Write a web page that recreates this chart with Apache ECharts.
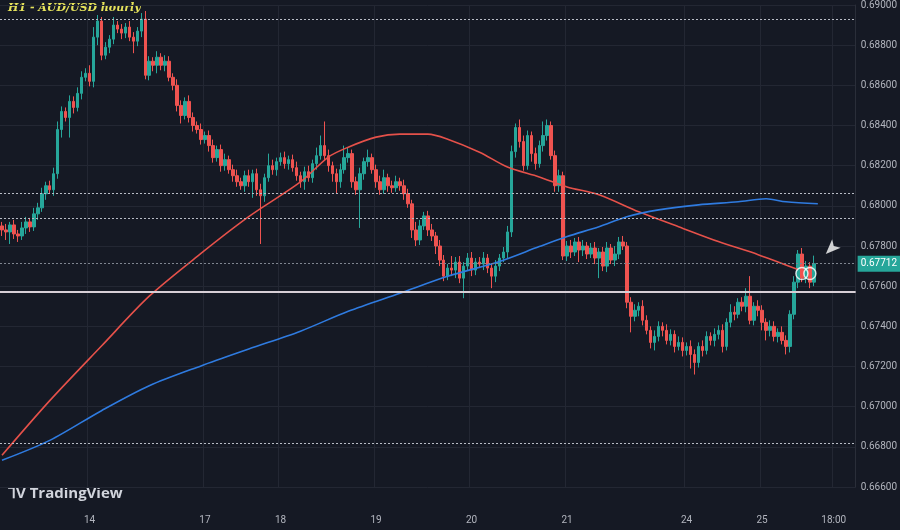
<!DOCTYPE html>
<html lang="en">
<head>
  <meta charset="UTF-8">
  <script src="https://cdn.jsdelivr.net/npm/echarts/dist/echarts.min.js"></script>
  <style>
    html, body { margin: 0; background: #151924; }
    #chart { width: 900px; height: 530px; }
  </style>
</head>
<body>
  <div id="chart"></div>
  <script>
    // closes in 1e-5 units, opens are the previous close
    const closes = [
      67880,67870,67905,67860,67850,67890,67920,67895,67960,67990,
      68060,68100,68080,68160,68380,68470,68440,68520,68490,68560,
      68640,68660,68620,68840,68920,68750,68790,68830,68900,68880,
      68860,68890,68840,68820,68870,68930,68650,68720,68700,68740,
      68700,68720,68640,68600,68500,68450,68520,68440,68400,68380,
      68330,68350,68300,68240,68280,68200,68230,68180,68150,68120,
      68100,68150,68120,68160,68080,68050,68140,68200,68180,68220,
      68240,68210,68230,68190,68150,68120,68170,68140,68210,68250,
      68300,68250,68200,68160,68120,68180,68240,68260,68120,68080,
      68160,68220,68240,68180,68120,68080,68140,68100,68090,68120,
      68100,68060,68010,67880,67830,67900,67950,67880,67850,67800,
      67730,67650,67690,67680,67720,67640,67700,67740,67680,67720,
      67710,67740,67690,67650,67700,67740,67770,67870,68270,68390,
      68320,68200,68350,68260,68210,68300,68350,68400,68250,68100,
      68150,67750,67800,67770,67820,67780,67800,67760,67790,67740,
      67770,67700,67790,67730,67760,67820,67800,67520,67450,67480,
      67500,67430,67380,67320,67350,67400,67380,67330,67360,67300,
      67320,67280,67300,67260,67220,67300,67280,67350,67330,67360,
      67380,67300,67420,67470,67460,67520,67500,67550,67430,67500,
      67480,67420,67380,67400,67350,67370,67330,67300,67460,67620,
      67760,67640,67700,67620,67712
    ];
    const firstOpen = 67900;
    const upWick = [
      20,30,15,25,20,30,25,20,30,25, 30,20,25,30,40,25,20,30,25,30,
      30,25,40,50,30,20,25,20,40,20, 25,20,30,25,20,30,40,25,20,30,
      20,30,25,20,30,25,20,30,25,20, 30,20,25,30,20,25,30,20,25,30,
      20,25,30,20,25,30,20,60,30,20, 25,30,20,25,30,20,25,30,20,40,
      50,120,30,20,25,30,60,30,20,25, 30,20,40,20,25,30,40,20,25,30,
      20,30,25,20,40,30,20,25,30,20, 30,25,20,60,25,30,20,25,30,20,
      25,30,20,25,30,20,25,30,30,20, 40,30,25,20,30,25,70,30,20,25,
      30,20,25,30,20,25,30,20,25,30, 20,25,30,20,40,25,30,20,25,30,
      20,30,25,20,30,25,20,30,25,20, 30,25,20,30,25,20,30,25,20,30,
      25,30,20,40,30,20,25,40,100,20, 30,25,20,30,25,20,30,25,20,30,
      20,30,25,20,40
    ];
    const downWick = [
      30,40,60,25,30,20,30,25,20,30, 20,30,20,30,25,40,20,100,30,20,
      30,20,25,30,40,25,20,30,25,20, 30,25,20,60,25,30,20,25,30,40,
      25,30,20,25,30,40,20,25,30,20, 25,20,30,25,20,30,25,20,30,25,
      20,30,25,80,30,240,30,20,25,30, 20,25,30,20,25,30,40,20,25,30,
      20,25,30,40,60,30,20,25,30,25, 190,30,25,20,30,25,20,30,25,20,
      25,30,20,40,30,25,20,30,25,40, 30,25,20,30,40,25,100,20,30,25,
      20,30,25,60,30,25,20,30,25,30, 30,25,20,40,30,20,30,25,20,30,
      30,20,25,30,20,60,30,25,20,30, 100,25,30,20,30,25,20,30,80,25,
      30,25,20,30,40,25,30,20,25,30, 20,30,25,70,60,25,30,20,25,30,
      25,30,20,25,30,20,25,30,20,25, 30,40,50,30,25,30,20,40,30,25,
      30,20,25,30,20
    ];
    // moving averages: [candle index, price 1e-5]
    const maRed = [[0,66758],[12,67030],[25,67302],[37,67550],[50,67763],[62,67946],[75,68119],
      [82,68243],[87,68292],[94,68342],[100,68357],[107,68357],[112,68332],[120,68267],[127,68193],
      [135,68144],[142,68094],[150,68055],[160,67970],[170,67896],[180,67822],[190,67757],[200,67683]];
    const maBlue = [[0,66733],[12,66832],[25,66980],[37,67104],[50,67203],[62,67287],[75,67376],
      [87,67475],[100,67565],[112,67649],[125,67723],[135,67797],[142,67847],[150,67896],[157,67946],
      [165,67980],[175,68005],[185,68020],[192,68035],[197,68020],[205,68010]];
    const nCats = 215;
    const tickIdx = [22, 51, 70, 94, 118, 142, 172, 191, 209];
    const tickTxt = ['14', '17', '18', '19', '20', '21', '24', '25', '18:00'];
    const dottedLevels = [0.68931, 0.68064, 0.67936, 0.66817];
    const supportLevel = 0.67574;
    const lastPrice = 0.67712;
    const circles = [[201, 0.67663], [203, 0.67663]];
    const arrowAt = [207, 0.67760];

    const s = v => v / 100000;
    const cats = Array.from({ length: nCats }, (_, i) => String(i));
    const candles = closes.map((c, i) => {
      const o = i === 0 ? firstOpen : closes[i - 1];
      return [s(o), s(c), s(Math.min(o, c) - downWick[i]), s(Math.max(o, c) + upWick[i])];
    });
    const toLine = arr => {
      const d = new Array(nCats).fill(null);
      arr.forEach(([i, v]) => { d[i] = s(v); });
      return d;
    };
    const tickSet = new Set(tickIdx);

    const chart = echarts.init(document.getElementById('chart'));
    chart.setOption({
      backgroundColor: '#151924',
      animation: false,
      grid: { left: 0, right: 40, top: 2, bottom: 43 },
      xAxis: {
        type: 'category', data: cats, boundaryGap: true,
        axisLine: { show: false }, axisTick: { show: false },
        axisLabel: {
          interval: (i) => tickSet.has(i), margin: 28,
          color: '#b2b5be', fontSize: 10, fontFamily: 'Roboto',
          formatter: (v) => tickTxt[tickIdx.indexOf(Number(v))] || ''
        },
        splitLine: { show: true, interval: (i) => tickSet.has(i), lineStyle: { color: '#232733' } }
      },
      yAxis: {
        type: 'value', position: 'right', min: 0.666, max: 0.690, interval: 0.002,
        axisLine: { show: true, lineStyle: { color: '#2a2e39' } }, axisTick: { show: false },
        axisLabel: { color: '#b2b5be', fontSize: 10, fontFamily: 'Roboto', formatter: v => v.toFixed(5), margin: 5 },
        splitLine: { lineStyle: { color: '#232733' } }
      },
      graphic: [
        { type: 'text', left: 8, top: 3, style: { text: 'H1 - AUD/USD hourly', fill: '#e6e35c',
          font: 'italic bold 11px "DejaVu Serif"' } },
        { type: 'text', left: 8, top: 486, style: { text: '⅂V TradingView', fill: '#d1d4dc',
          font: 'bold 15px "Open Sans"' } }
      ],
      series: [
        {
          type: 'candlestick', data: candles, barWidth: 3,
          itemStyle: { color: '#26a69a', color0: '#ef5350', borderColor: '#26a69a', borderColor0: '#ef5350', borderWidth: 1 }
        },
        {
          type: 'line', data: [], silent: true,
          markLine: {
            symbol: 'none', silent: true, precision: 5,
            data: [
              ...dottedLevels.map(v => ({ yAxis: v, lineStyle: { color: '#b8bcc6', type: [2, 2], width: 1 }, label: { show: false } })),
              { yAxis: supportLevel, lineStyle: { color: '#d7cfd6', type: 'solid', width: 2 }, label: { show: false } },
              { yAxis: lastPrice, lineStyle: { color: '#7f8590', type: [2, 2], width: 1 },
                label: { show: true, position: 'end', formatter: lastPrice.toFixed(5), color: '#ffffff',
                  backgroundColor: '#26a69a', padding: [3, 3], fontSize: 10, fontFamily: 'Roboto', distance: 2 } }
            ]
          }
        },
        { type: 'line', data: toLine(maRed), connectNulls: true, smooth: 0.3, showSymbol: false,
          lineStyle: { color: '#e5514a', width: 1.6 }, z: 3 },
        { type: 'line', data: toLine(maBlue), connectNulls: true, smooth: 0.3, showSymbol: false,
          lineStyle: { color: '#2f7be0', width: 1.6 }, z: 3 },
        { type: 'scatter', data: circles.map(([i, v]) => [String(i), v]), symbol: 'circle', symbolSize: 12,
          itemStyle: { color: 'rgba(0,0,0,0)', borderColor: '#ffffff', borderWidth: 1.5 }, z: 5 },
        { type: 'scatter', data: [[String(arrowAt[0]), arrowAt[1]]], symbol: 'arrow', symbolSize: [9, 15],
          symbolRotate: 135, itemStyle: { color: '#ffffff' }, z: 5 }
      ]
    });
  </script>
</body>
</html>
